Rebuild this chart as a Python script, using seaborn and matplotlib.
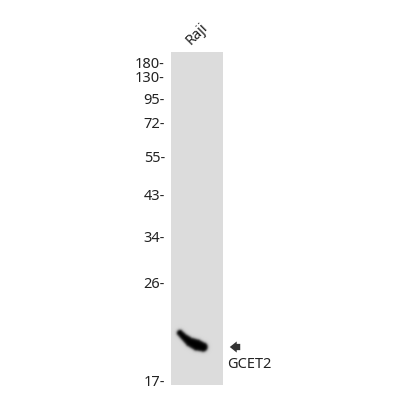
import numpy as np
import seaborn as sns
import matplotlib.pyplot as plt

sns.set_style('white')
plt.rcParams['font.family'] = ['Noto Sans', 'DejaVu Sans']

# marker ladder (kDa) and where each one ran on the blot (pixel rows)
marker_labels = ['180', '130', '95', '72', '55', '43', '34', '26', '17']
marker_rows = [64, 79, 101, 125, 159, 197, 239, 284, 382]

lane_names = ['Raji']
target = 'GCET2'
# band outline: spine of the smear (x, y) and its half-width
band_x = [180, 184, 190, 197, 203]
band_y = [333, 337, 342, 345, 347]
band_r = [3.0, 3.4, 4.6, 5.6, 4.6]

W, H = 400, 400
lane_x0, lane_x1 = 171, 223
lane_y0, lane_y1 = 52, 385

fig = plt.figure(figsize=(4, 4), dpi=100)
ax = fig.add_axes([0, 0, 1, 1])
ax.set_xlim(0, W)
ax.set_ylim(H, 0)
ax.axis('off')

# lane image: grey background plus a dark smeared band
xx, yy = np.meshgrid(np.arange(lane_x0, lane_x1) + 0.5, np.arange(lane_y0, lane_y1) + 0.5)
dens = np.zeros_like(xx)
for i in range(len(band_x) - 1):
    ax_, ay_ = band_x[i], band_y[i]
    dx, dy = band_x[i + 1] - ax_, band_y[i + 1] - ay_
    t = np.clip(((xx - ax_) * dx + (yy - ay_) * dy) / (dx * dx + dy * dy), 0, 1)
    d = np.hypot(xx - (ax_ + t * dx), yy - (ay_ + t * dy))
    r = band_r[i] + t * (band_r[i + 1] - band_r[i])
    dens = np.maximum(dens, 1 / (1 + np.exp(-(r - d) / 0.8)))
bg = 0.86
img = bg * (1 - dens)
ax.imshow(img, cmap='gray', vmin=0, vmax=1, extent=(lane_x0, lane_x1, lane_y1, lane_y0),
          interpolation='bilinear', zorder=1)

for lab, row in zip(marker_labels, marker_rows):
    ax.text(165, row, lab + '-', ha='right', va='center', fontsize=10.5, color='#222222')

ax.text(197, 34, lane_names[0], rotation=45, ha='center', va='center', fontsize=10.5, color='#222222')

ax.annotate('', xy=(227, 347), xytext=(243, 347),
            arrowprops=dict(arrowstyle='simple,head_width=0.8,head_length=0.5,tail_width=0.45',
                            color='#333333', lw=0))
ax.text(227, 364, target, ha='left', va='center', fontsize=10.5, color='#222222')

fig.savefig('out.png', dpi=100)
